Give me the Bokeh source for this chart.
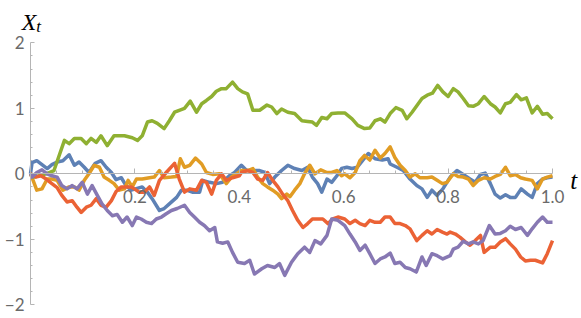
from bokeh.plotting import figure
from bokeh.models import LinearAxis, FixedTicker, Label, Range1d
from bokeh.embed import file_html
from bokeh.resources import INLINE

# ---- data ----
blue_t = [0, 0.003, 0.012, 0.022, 0.032, 0.041, 0.051, 0.062, 0.074, 0.084, 0.093, 0.103, 0.112, 0.124, 0.135, 0.145,
          0.155, 0.164, 0.174, 0.183, 0.193, 0.214, 0.224, 0.233, 0.247, 0.256, 0.266, 0.28, 0.289, 0.299, 0.31,
          0.324, 0.33, 0.343, 0.356, 0.368, 0.381, 0.391, 0.404, 0.414, 0.426, 0.439, 0.449, 0.458, 0.468, 0.481,
          0.493, 0.506, 0.52, 0.531, 0.54, 0.55, 0.558, 0.568, 0.577, 0.587, 0.596, 0.606, 0.616, 0.626, 0.636,
          0.647, 0.66, 0.674, 0.685, 0.689, 0.702, 0.714, 0.727, 0.74, 0.75, 0.76, 0.769, 0.779, 0.79, 0.804,
          0.817, 0.829, 0.842, 0.852, 0.862, 0.871, 0.881, 0.89, 0.90, 0.91, 0.919, 0.929, 0.94, 0.952, 0.961,
          0.971, 0.981, 0.99, 1.0]
blue_x = [0, 0.17, 0.20, 0.14, 0.08, 0.14, 0.18, 0.20, 0.29, 0.13, 0.18, 0.10, 0.02, 0.16, 0.20, 0.10,
          0.02, -0.09, -0.06, -0.18, -0.25, -0.20, -0.28, -0.38, -0.56, -0.53, -0.46, -0.36, -0.25, -0.25, -0.28,
          -0.28, -0.10, -0.13, -0.15, -0.13, -0.03, 0.02, 0.13, 0.05, 0.05, 0.05, 0.02, -0.15, -0.05, 0.05,
          0.13, 0.08, 0.05, 0.10, -0.05, -0.15, -0.28, -0.08, -0.13, -0.03, 0.08, 0.10, 0.08, 0.10, 0.20,
          0.31, 0.23, 0.21, 0.23, 0.15, 0.10, 0.05, -0.08, -0.18, -0.23, -0.36, -0.25, -0.33, -0.23, -0.05,
          0.05, -0.01, -0.08, -0.13, -0.01, 0.01, -0.15, -0.31, -0.37, -0.32, -0.36, -0.36, -0.23, -0.31, -0.36,
          -0.15, -0.08, -0.06, -0.05]

orange_t = [0, 0.005, 0.012, 0.022, 0.032, 0.041, 0.051, 0.062, 0.074, 0.084, 0.093, 0.103, 0.112, 0.122, 0.132,
            0.141, 0.151, 0.16, 0.17, 0.18, 0.187, 0.195, 0.203, 0.214, 0.228, 0.237, 0.247, 0.256, 0.27, 0.28,
            0.287, 0.295, 0.305, 0.316, 0.328, 0.337, 0.349, 0.362, 0.375, 0.385, 0.395, 0.404, 0.416, 0.426,
            0.435, 0.445, 0.454, 0.464, 0.474, 0.481, 0.491, 0.497, 0.506, 0.516, 0.525, 0.535, 0.545, 0.556,
            0.568, 0.577, 0.587, 0.596, 0.602, 0.612, 0.622, 0.631, 0.64, 0.65, 0.66, 0.67, 0.679, 0.689, 0.698,
            0.708, 0.718, 0.727, 0.737, 0.746, 0.76, 0.769, 0.779, 0.789, 0.798, 0.81, 0.819, 0.829, 0.839,
            0.848, 0.858, 0.869, 0.881, 0.89, 0.90, 0.91, 0.919, 0.929, 0.939, 0.948, 0.961, 0.971, 0.981, 0.99, 1.0]
orange_x = [0, -0.10, -0.25, -0.23, -0.08, -0.08, -0.10, -0.25, -0.20, -0.20, -0.25, -0.10, 0.0, 0.13, 0.10,
            -0.05, -0.10, -0.15, -0.25, -0.23, -0.10, -0.20, -0.08, -0.08, -0.06, -0.05, 0.05, -0.06, -0.05, -0.04,
            0.23, 0.10, 0.13, 0.24, 0.15, 0.02, -0.01, 0.0, -0.15, -0.05, 0.0, 0.05, 0.05, 0.08,
            -0.05, -0.15, -0.20, -0.25, -0.31, -0.38, -0.31, -0.35, -0.25, -0.15, 0.0, 0.13, 0.0, 0.06,
            0.02, 0.02, 0.05, -0.03, 0.0, -0.06, 0.02, 0.20, 0.28, 0.21, 0.36, 0.24, 0.31, 0.41, 0.25,
            0.13, 0.05, -0.05, 0.0, -0.06, -0.06, -0.05, -0.10, -0.15, -0.13, 0.0, -0.04, -0.05, -0.08,
            -0.18, -0.10, -0.06, -0.08, -0.04, -0.01, 0.10, -0.03, -0.01, -0.06, -0.08, -0.10, -0.23, -0.08, -0.05, -0.03]

green_t = [0, 0.007, 0.03, 0.045, 0.065, 0.074, 0.084, 0.097, 0.107, 0.116, 0.126, 0.135, 0.147, 0.16, 0.18, 0.195,
           0.205, 0.214, 0.224, 0.233, 0.243, 0.256, 0.266, 0.276, 0.285, 0.295, 0.306, 0.318, 0.328, 0.337, 0.347,
           0.356, 0.366, 0.375, 0.387, 0.397, 0.406, 0.416, 0.426, 0.439, 0.453, 0.462, 0.472, 0.481, 0.493,
           0.506, 0.52, 0.531, 0.54, 0.548, 0.558, 0.568, 0.577, 0.589, 0.602, 0.616, 0.627, 0.64, 0.65, 0.66,
           0.67, 0.679, 0.689, 0.70, 0.712, 0.721, 0.731, 0.74, 0.75, 0.76, 0.77, 0.78, 0.79, 0.80, 0.81, 0.819,
           0.829, 0.839, 0.848, 0.858, 0.869, 0.881, 0.89, 0.90, 0.91, 0.919, 0.931, 0.94, 0.95, 0.961, 0.971,
           0.981, 0.99, 1.0]
green_x = [0, -0.05, 0.0, 0.05, 0.51, 0.46, 0.54, 0.54, 0.46, 0.54, 0.48, 0.58, 0.43, 0.58, 0.58, 0.55,
           0.51, 0.58, 0.79, 0.81, 0.77, 0.69, 0.81, 0.94, 0.97, 1.0, 1.11, 0.94, 1.07, 1.12, 1.18,
           1.26, 1.30, 1.30, 1.40, 1.30, 1.25, 1.22, 0.97, 0.97, 1.05, 1.02, 0.92, 0.99, 0.94,
           0.92, 0.81, 0.80, 0.79, 0.74, 0.86, 0.84, 0.92, 0.93, 0.93, 0.84, 0.74, 0.69, 0.70, 0.81,
           0.84, 0.79, 0.92, 1.01, 0.97, 0.84, 0.94, 1.04, 1.15, 1.20, 1.23, 1.35, 1.25, 1.18, 1.30, 1.25,
           1.15, 1.04, 1.03, 1.07, 1.18, 1.07, 1.02, 0.93, 1.07, 1.09, 1.21, 1.13, 1.16, 0.93, 1.03,
           0.91, 0.92, 0.84]

red_t = [0, 0.01, 0.02, 0.03, 0.041, 0.051, 0.06, 0.07, 0.08, 0.089, 0.097, 0.107, 0.116, 0.126, 0.135, 0.145,
         0.155, 0.164, 0.174, 0.183, 0.193, 0.199, 0.208, 0.218, 0.228, 0.237, 0.247, 0.26, 0.276, 0.285, 0.295,
         0.305, 0.318, 0.328, 0.337, 0.347, 0.356, 0.366, 0.375, 0.387, 0.40, 0.404, 0.416, 0.426, 0.435, 0.445,
         0.454, 0.464, 0.474, 0.483, 0.493, 0.502, 0.512, 0.522, 0.531, 0.54, 0.55, 0.56, 0.57, 0.579, 0.589,
         0.602, 0.612, 0.622, 0.631, 0.641, 0.65, 0.66, 0.67, 0.679, 0.689, 0.698, 0.708, 0.718, 0.727, 0.74,
         0.75, 0.76, 0.769, 0.779, 0.789, 0.798, 0.804, 0.814, 0.823, 0.833, 0.842, 0.852, 0.862, 0.869, 0.881,
         0.89, 0.90, 0.91, 0.919, 0.929, 0.939, 0.948, 0.958, 0.967, 0.981, 0.99, 1.0]
red_x = [0, -0.05, -0.03, -0.08, -0.15, -0.21, -0.33, -0.43, -0.41, -0.51, -0.59, -0.51, -0.48, -0.38, -0.48, -0.51,
         -0.41, -0.27, -0.20, -0.20, -0.20, -0.23, -0.28, -0.28, -0.20, -0.33, -0.10, 0.02, 0.16, -0.08, -0.28,
         -0.23, -0.25, -0.10, -0.13, -0.31, -0.10, 0.0, -0.10, -0.06, -0.03, 0.02, 0.05, 0.02, -0.08, -0.10,
         0.02, -0.10, -0.20, -0.31, -0.41, -0.56, -0.71, -0.82, -0.76, -0.69, -0.69, -0.69, -0.76, -0.69, -0.66,
         -0.69, -0.76, -0.71, -0.76, -0.79, -0.71, -0.74, -0.74, -0.66, -0.66, -0.76, -0.76, -0.79, -0.84, -1.02,
         -0.94, -0.87, -0.92, -0.85, -0.89, -0.92, -0.89, -0.92, -0.97, -1.04, -1.09, -1.02, -0.94, -1.20, -1.12,
         -1.12, -1.04, -0.99, -1.07, -1.15, -1.27, -1.33, -1.32, -1.32, -1.36, -1.22, -1.02]

purple_t = [0, 0.003, 0.012, 0.022, 0.032, 0.041, 0.051, 0.06, 0.07, 0.08, 0.089, 0.099, 0.109, 0.118, 0.128,
            0.137, 0.147, 0.157, 0.166, 0.176, 0.185, 0.195, 0.203, 0.212, 0.222, 0.232, 0.241, 0.251, 0.26, 0.27,
            0.281, 0.295, 0.305, 0.314, 0.324, 0.333, 0.343, 0.353, 0.358, 0.368, 0.378, 0.387, 0.397, 0.41, 0.42,
            0.429, 0.443, 0.454, 0.468, 0.477, 0.487, 0.50, 0.512, 0.525, 0.535, 0.545, 0.556, 0.568, 0.577,
            0.589, 0.602, 0.612, 0.622, 0.631, 0.641, 0.65, 0.66, 0.67, 0.679, 0.689, 0.698, 0.708, 0.718, 0.727,
            0.739, 0.75, 0.758, 0.769, 0.779, 0.79, 0.804, 0.81, 0.819, 0.829, 0.839, 0.848, 0.858, 0.867, 0.879,
            0.89, 0.90, 0.91, 0.919, 0.929, 0.94, 0.952, 0.961, 0.971, 0.981, 0.99, 1.0]
purple_x = [0, -0.05, 0.02, 0.06, 0.0, -0.03, -0.05, -0.18, -0.23, -0.18, -0.23, -0.13, -0.31, -0.18, -0.33,
            -0.46, -0.56, -0.64, -0.62, -0.74, -0.66, -0.79, -0.66, -0.69, -0.74, -0.76, -0.69, -0.66, -0.61, -0.56,
            -0.53, -0.48, -0.59, -0.66, -0.74, -0.79, -0.87, -0.82, -1.04, -1.06, -1.04, -1.20, -1.35, -1.37, -1.32,
            -1.53, -1.45, -1.40, -1.43, -1.37, -1.55, -1.35, -1.22, -1.12, -1.20, -1.02, -1.07, -0.94, -0.69,
            -0.71, -0.79, -0.92, -1.04, -1.17, -1.09, -1.22, -1.37, -1.30, -1.27, -1.21, -1.37, -1.35, -1.43, -1.45,
            -1.50, -1.27, -1.40, -1.22, -1.25, -1.30, -1.25, -1.15, -1.12, -1.03, -1.07, -1.04, -1.07, -1.02, -0.79,
            -0.92, -0.91, -0.87, -0.80, -0.85, -0.82, -0.94, -0.84, -0.74, -0.66, -0.74, -0.74]

x_major = [0.2, 0.4, 0.6, 0.8, 1.0]
x_major_labels = {0.2: "0.2", 0.4: "0.4", 0.6: "0.6", 0.8: "0.8", 1.0: "1.0"}
x_minor = [0.05, 0.1, 0.15, 0.25, 0.3, 0.35, 0.45, 0.5, 0.55, 0.65, 0.7, 0.75, 0.85, 0.9, 0.95]
y_major = [-2, -1, 0, 1, 2]
y_major_labels = {-2: "\u22122", -1: "\u22121", 0: "0", 1: "1", 2: "2"}
y_minor = [-1.8, -1.6, -1.4, -1.2, -0.8, -0.6, -0.4, -0.2, 0.2, 0.4, 0.6, 0.8, 1.2, 1.4, 1.6, 1.8]

series = [
    (blue_t, blue_x, "#5E81B5"),
    (orange_t, orange_x, "#E19C24"),
    (green_t, green_x, "#8FB032"),
    (red_t, red_x, "#EB6235"),
    (purple_t, purple_x, "#8778B3"),
]

AX = "#b5b5b5"
LBL = "#6a6a6a"

# layout: the frame fills the whole figure; ranges padded so the axes sit at t=0 / X=0
W, H = 580, 316
X0_PX, X_SCALE = 30.0, 522.0      # pixel of t=0 from figure left, px per unit t
Y0_PX, Y_SCALE = 173.3, 65.5      # pixel of X=0 from figure top, px per unit X
x_lo = -X0_PX / X_SCALE
x_hi = (W - X0_PX) / X_SCALE
y_hi = Y0_PX / Y_SCALE
y_lo = -(H - Y0_PX) / Y_SCALE

p = figure(width=W, height=H, x_range=Range1d(x_lo, x_hi), y_range=Range1d(y_lo, y_hi),
           output_backend="svg", toolbar_location=None,
           x_axis_location=None, y_axis_location=None,
           min_border=0, min_border_left=0, min_border_right=0, min_border_top=0, min_border_bottom=0)
p.outline_line_color = None
p.grid.visible = False
p.background_fill_color = "white"
p.border_fill_color = "white"

for t, xv, c in series:
    p.line(t, xv, line_color=c, line_width=3.5, line_join="round")

yaxis = LinearAxis(fixed_location=0, bounds=(-2, 2),
                   ticker=FixedTicker(ticks=y_major, minor_ticks=y_minor),
                   major_label_overrides=y_major_labels)
yaxis.axis_line_color = AX
yaxis.major_tick_line_color = AX
yaxis.minor_tick_line_color = AX
yaxis.major_tick_in = 4
yaxis.major_tick_out = 0
yaxis.minor_tick_in = 2
yaxis.minor_tick_out = 0
yaxis.major_label_text_font = "Lato"
yaxis.major_label_text_font_size = "17px"
yaxis.major_label_text_color = LBL
yaxis.major_label_standoff = 6
p.add_layout(yaxis, "left")

xaxis = LinearAxis(fixed_location=0, bounds=(0, 1),
                   ticker=FixedTicker(ticks=x_major, minor_ticks=x_minor),
                   major_label_overrides=x_major_labels)
xaxis.axis_line_color = AX
xaxis.major_tick_line_color = AX
xaxis.minor_tick_line_color = AX
xaxis.major_tick_in = 5
xaxis.major_tick_out = 0
xaxis.minor_tick_in = 3
xaxis.minor_tick_out = 0
xaxis.major_label_text_font = "Lato"
xaxis.major_label_text_font_size = "17px"
xaxis.major_label_text_color = LBL
xaxis.major_label_standoff = 16
p.add_layout(xaxis, "below")

p.add_layout(Label(x=-0.017, y=2.315, text="X", text_font="Liberation Serif", text_font_style="italic",
                   text_font_size="24px", text_color="black", text_baseline="alphabetic"))
p.add_layout(Label(x=0.011, y=2.255, text="t", text_font="Liberation Serif", text_font_style="italic",
                   text_font_size="17px", text_color="black", text_baseline="alphabetic"))
p.add_layout(Label(x=1.034, y=-0.10, text="t", text_font="Liberation Serif", text_font_style="italic",
                   text_font_size="25px", text_color="black", text_baseline="alphabetic"))

open("out.html", "w").write(file_html(p, INLINE))
